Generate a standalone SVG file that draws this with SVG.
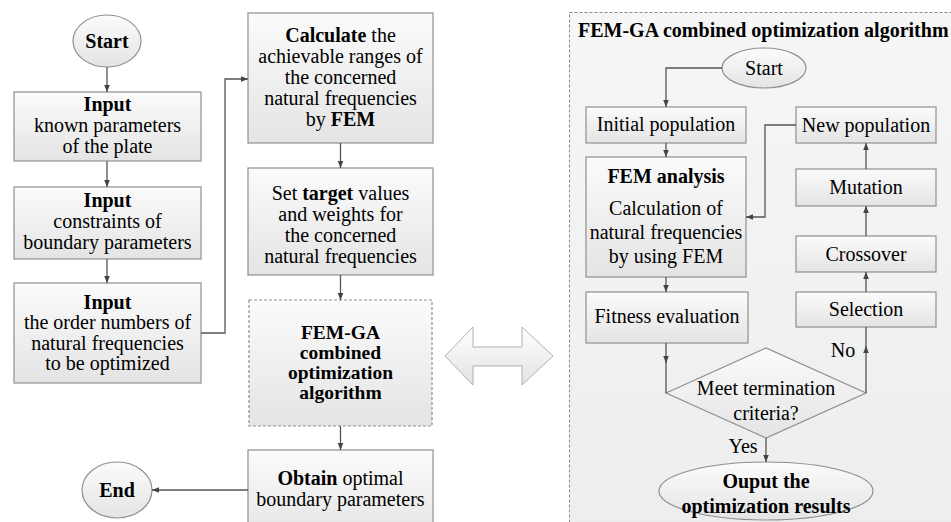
<svg xmlns="http://www.w3.org/2000/svg" width="951" height="522" viewBox="0 0 951 522">
<defs>
<linearGradient id="gBox" x1="0" y1="0" x2="0" y2="1">
<stop offset="0" stop-color="#fbfbfb"/>
<stop offset="1" stop-color="#e4e4e4"/>
</linearGradient>
<linearGradient id="gPanel" x1="0" y1="0" x2="0" y2="1">
<stop offset="0" stop-color="#f6f6f6"/>
<stop offset="1" stop-color="#ededed"/>
</linearGradient>
<linearGradient id="gArrow" x1="0" y1="0" x2="0" y2="1">
<stop offset="0" stop-color="#ffffff"/>
<stop offset="1" stop-color="#e2e2e2"/>
</linearGradient>
<marker id="ah" viewBox="0 0 10 10" refX="10" refY="5" markerWidth="7" markerHeight="7" markerUnits="userSpaceOnUse" orient="auto">
<path d="M0 1 L10 5 L0 9 Z" fill="#444"/>
</marker>
</defs>
<style>
.box{fill:url(#gBox);stroke:#8f8f8f;stroke-width:1.2}
.dbox{fill:url(#gBox);stroke:#8f8f8f;stroke-width:1.2;stroke-dasharray:3 2}
text{font-family:'Liberation Serif','DejaVu Serif',serif;font-size:20px;fill:#000;text-anchor:middle}
.b{font-weight:bold}
.s{font-size:19.5px}
.c{fill:none;stroke:#555;stroke-width:1.3}
.ca{fill:none;stroke:#555;stroke-width:1.3;marker-end:url(#ah)}
</style>
<rect width="951" height="522" fill="#ffffff"/>

<!-- right panel -->
<g id="panel">
<rect x="569.5" y="12.5" width="400" height="530" fill="url(#gPanel)" stroke="#8a8a8a" stroke-width="1" stroke-dasharray="3 2"/>
<text class="b" x="578" y="37" style="text-anchor:start;font-size:20px">FEM-GA combined optimization algorithm</text>
</g>

<!-- left column -->
<g id="start">
<ellipse cx="107" cy="41" rx="34" ry="26" class="box"/>
<text class="b" x="107" y="48">Start</text>
</g>
<g id="input1">
<rect x="14" y="92" width="187" height="69" class="box"/>
<text class="b" x="107.5" y="111">Input</text>
<text x="107.5" y="132">known parameters</text>
<text x="107.5" y="153">of the plate</text>
</g>
<g id="input2">
<rect x="14" y="187" width="187" height="72" class="box"/>
<text class="b" x="107.5" y="207">Input</text>
<text x="107.5" y="228">constraints of</text>
<text x="107.5" y="249">boundary parameters</text>
</g>
<g id="input3">
<rect x="14" y="283" width="187" height="100" class="box"/>
<text class="b" x="107.5" y="309">Input</text>
<text x="107.5" y="329">the order numbers of</text>
<text x="107.5" y="350">natural frequencies</text>
<text x="107.5" y="370">to be optimized</text>
</g>
<g id="end">
<ellipse cx="117" cy="490" rx="35" ry="28" class="box"/>
<text class="b" x="117" y="497">End</text>
</g>

<!-- middle column -->
<g id="calculate">
<rect x="248" y="13" width="185" height="130" class="box"/>
<text x="340.5" y="42"><tspan font-weight="bold">Calculate</tspan> the</text>
<text x="340.5" y="63">achievable ranges of</text>
<text x="340.5" y="84">the concerned</text>
<text x="340.5" y="105">natural frequencies</text>
<text x="340.5" y="126">by <tspan font-weight="bold">FEM</tspan></text>
</g>
<g id="target">
<rect x="248" y="168" width="185" height="107" class="box"/>
<text x="340.5" y="200">Set <tspan font-weight="bold">target</tspan> values</text>
<text x="340.5" y="221">and weights for</text>
<text x="340.5" y="242">the concerned</text>
<text x="340.5" y="263">natural frequencies</text>
</g>
<g id="femga">
<rect x="249" y="300" width="183" height="126" class="dbox"/>
<text class="b s" x="340.5" y="339">FEM-GA</text>
<text class="b s" x="340.5" y="359">combined</text>
<text class="b s" x="340.5" y="379">optimization</text>
<text class="b s" x="340.5" y="399">algorithm</text>
</g>
<g id="obtain">
<rect x="248" y="450" width="185" height="90" class="box"/>
<text x="340.5" y="485"><tspan font-weight="bold">Obtain</tspan> optimal</text>
<text x="340.5" y="506">boundary parameters</text>
</g>

<g id="double-arrow">
<polygon points="445,356 473,327 473,347 522,347 522,327 553,356 522,385 522,366 473,366 473,385" fill="url(#gArrow)" stroke="#b0b0b0" stroke-width="1"/>
</g>

<!-- right flow -->
<g id="r-start">
<ellipse cx="764" cy="68" rx="42" ry="20" class="box"/>
<text x="764" y="75">Start</text>
</g>
<g id="initial">
<rect x="586" y="107" width="160" height="36" class="box"/>
<text x="666" y="131">Initial population</text>
</g>
<g id="fem">
<rect x="586" y="157" width="160" height="120" class="box"/>
<text class="b" x="666" y="183">FEM analysis</text>
<text x="666" y="215">Calculation of</text>
<text x="666" y="239">natural frequencies</text>
<text x="666" y="263">by using FEM</text>
</g>
<g id="fitness">
<rect x="586" y="292" width="162" height="51" class="box"/>
<text x="667" y="323">Fitness evaluation</text>
</g>
<g id="decision">
<polygon points="666,393 766,348 866,393 766,438" class="box"/>
<text x="766" y="395">Meet termination</text>
<text x="766" y="420">criteria?</text>
</g>
<g id="output">
<ellipse cx="766" cy="491" rx="107" ry="29" class="box"/>
<text class="b" x="766" y="488">Ouput the</text>
<text class="b" x="766" y="513">optimization results</text>
</g>
<g id="newpop">
<rect x="796" y="107" width="140" height="36" class="box"/>
<text x="866" y="132">New population</text>
</g>
<g id="mutation">
<rect x="796" y="169" width="140" height="37" class="box"/>
<text x="866" y="194">Mutation</text>
</g>
<g id="crossover">
<rect x="796" y="236" width="140" height="36" class="box"/>
<text x="866" y="261">Crossover</text>
</g>
<g id="selection">
<rect x="796" y="292" width="140" height="35" class="box"/>
<text x="866" y="316">Selection</text>
</g>

<g id="connectors">
<path class="ca" d="M107 67 V92"/>
<path class="ca" d="M107 161 V187"/>
<path class="ca" d="M107 259 V283"/>
<path class="ca" d="M201 333 H225 V79 H248"/>
<path class="ca" d="M340.5 143 V168"/>
<path class="ca" d="M340.5 275 V300"/>
<path class="ca" d="M340.5 426 V450"/>
<path class="ca" d="M248 490 H152"/>

<path class="ca" d="M722 68 H666 V107"/>
<path class="ca" d="M666 143 V157"/>
<path class="ca" d="M666 277 V292"/>
<path class="ca" d="M666 343 V363"/>
<path class="c" d="M666 362 V393"/>
<path class="ca" d="M766 438 V462"/>
<path class="ca" d="M866 393 V346"/>
<path class="c" d="M866 347 V327"/>
<path class="ca" d="M866 292 V272"/>
<path class="ca" d="M866 236 V206"/>
<path class="ca" d="M866 169 V143"/>
<path class="ca" d="M796 125 H765 V217 H746"/>
<text x="743" y="453">Yes</text>
<text x="843" y="357">No</text>
</g>
</svg>
